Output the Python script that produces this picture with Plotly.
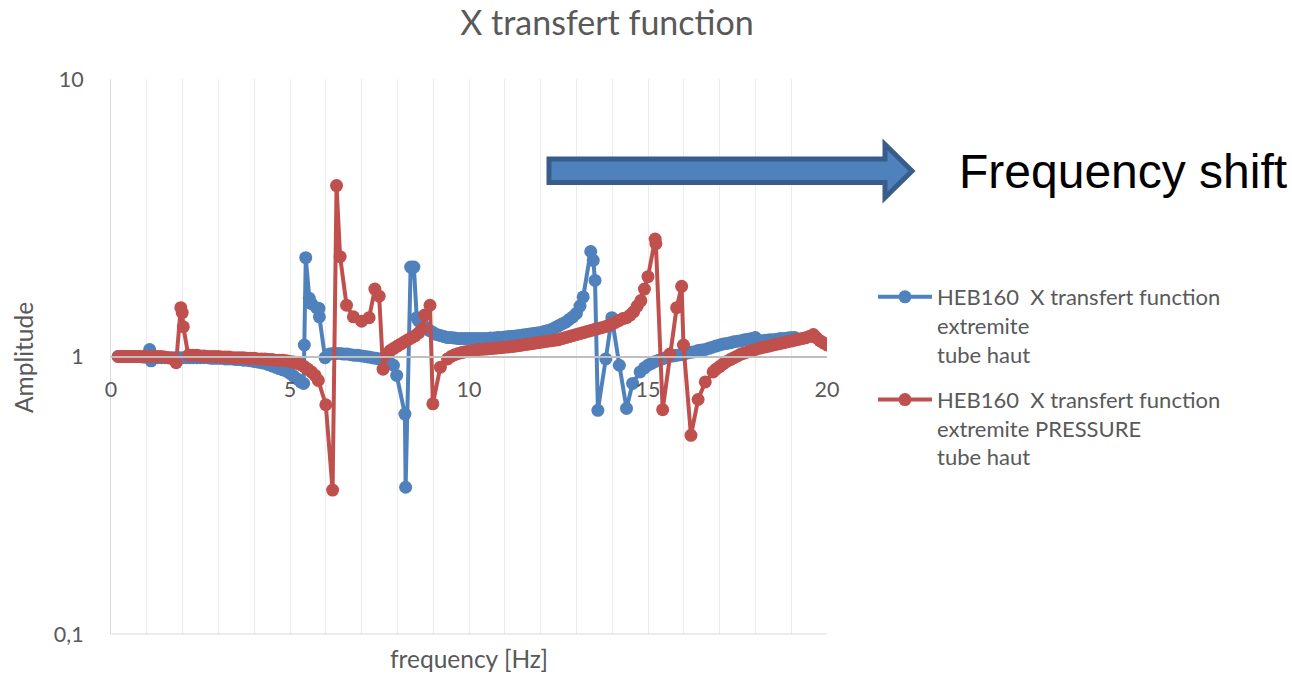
import plotly.graph_objects as go

# ---------------- data ----------------
blue_freq = [0.2, 0.3, 0.4, 0.5, 0.6, 0.7, 0.8, 0.9, 1.0, 1.08, 1.12, 1.2, 1.3, 1.4, 1.5, 1.6, 1.7, 1.8, 1.9,
             2.0, 2.1, 2.2, 2.3, 2.4, 2.5, 2.6, 2.7, 2.8, 2.9, 3.0, 3.1, 3.2, 3.3, 3.4, 3.5, 3.6, 3.7, 3.8, 3.9,
             4.0, 4.1, 4.2, 4.3, 4.4, 4.5, 4.6, 4.7, 4.8, 4.9, 5.0, 5.1, 5.2, 5.3, 5.38, 5.40, 5.44, 5.54, 5.60,
             5.74, 5.81, 5.82, 5.98, 6.1, 6.2, 6.3, 6.4, 6.5, 6.6, 6.7, 6.8, 6.9, 7.0, 7.1, 7.2, 7.3, 7.4, 7.5,
             7.6, 7.7, 7.8, 7.89, 7.98, 8.21, 8.23, 8.37, 8.46, 8.54, 8.6, 8.7, 8.8, 8.9, 9.0, 9.1, 9.2, 9.3,
             9.4, 9.5, 9.6, 9.7, 9.8, 9.9, 10.0, 10.1, 10.2, 10.3, 10.4, 10.5, 10.6, 10.7, 10.8, 10.9, 11.0,
             11.1, 11.2, 11.3, 11.4, 11.5, 11.6, 11.7, 11.8, 11.9, 12.0, 12.1, 12.2, 12.3, 12.4, 12.5, 12.6,
             12.7, 12.8, 12.9, 13.0, 13.1, 13.19, 13.40, 13.47, 13.52, 13.60, 13.82, 13.99, 14.2, 14.4, 14.57,
             14.78, 14.9, 15.0, 15.1, 15.2, 15.3, 15.4, 15.5, 15.6, 15.7, 15.8, 15.9, 16.0, 16.1, 16.2, 16.3,
             16.4, 16.5, 16.6, 16.7, 16.8, 16.9, 17.0, 17.1, 17.2, 17.3, 17.4, 17.5, 17.6, 17.7, 17.8, 17.9,
             18.0, 18.1, 18.2, 18.3, 18.4, 18.5, 18.6, 18.7, 18.8, 18.9, 19.0, 19.1]
blue_amp = [1.0, 1.0, 1.0, 1.0, 1.0, 1.0, 1.0, 0.995, 0.995, 1.06, 0.965, 0.99, 0.99, 0.99, 0.99, 0.99, 0.99, 0.99, 0.99,
            0.99, 0.99, 0.99, 0.99, 0.99, 0.99, 0.99, 0.99, 0.985, 0.985, 0.985, 0.985, 0.98, 0.98, 0.98, 0.975, 0.975, 0.97, 0.97, 0.965,
            0.96, 0.955, 0.95, 0.945, 0.935, 0.925, 0.915, 0.905, 0.895, 0.885, 0.87, 0.85, 0.83, 0.81, 0.80, 1.10, 2.27, 1.62, 1.55,
            1.50, 1.49, 1.39, 0.99, 1.02, 1.025, 1.025, 1.025, 1.02, 1.02, 1.015, 1.01, 1.01, 1.005, 1.0, 0.995, 0.99, 0.985, 0.98,
            0.97, 0.96, 0.945, 0.93, 0.855, 0.62, 0.338, 2.10, 2.10, 1.38, 1.34, 1.30, 1.27, 1.24, 1.22, 1.20, 1.19, 1.18,
            1.17, 1.17, 1.165, 1.16, 1.16, 1.16, 1.16, 1.16, 1.16, 1.16, 1.16, 1.16, 1.165, 1.165, 1.17, 1.17, 1.175,
            1.18, 1.18, 1.185, 1.19, 1.195, 1.2, 1.205, 1.21, 1.215, 1.22, 1.23, 1.24, 1.25, 1.27, 1.29, 1.31,
            1.33, 1.36, 1.39, 1.43, 1.52, 1.64, 2.39, 2.22, 1.88, 0.64, 0.98, 1.38, 0.93, 0.65, 0.80,
            0.88, 0.91, 0.93, 0.945, 0.96, 0.97, 0.98, 0.99, 1.0, 1.005, 1.01, 1.015, 1.02, 1.03, 1.035, 1.04,
            1.05, 1.055, 1.06, 1.07, 1.08, 1.09, 1.10, 1.11, 1.115, 1.12, 1.13, 1.135, 1.14, 1.15, 1.155, 1.16,
            1.17, 1.14, 1.14, 1.145, 1.15, 1.15, 1.155, 1.16, 1.16, 1.165, 1.17, 1.17]

red_freq = [0.2, 0.3, 0.4, 0.5, 0.6, 0.7, 0.8, 0.9, 1.0, 1.1, 1.2, 1.3, 1.4, 1.5, 1.6, 1.7, 1.82, 1.95, 1.99, 2.02,
            2.16, 2.2, 2.3, 2.4, 2.5, 2.6, 2.7, 2.8, 2.9, 3.0, 3.1, 3.2, 3.3, 3.4, 3.5, 3.6, 3.7, 3.8, 3.9, 4.0,
            4.1, 4.2, 4.3, 4.4, 4.5, 4.6, 4.7, 4.8, 4.9, 5.0, 5.1, 5.2, 5.3, 5.4, 5.5, 5.6, 5.7, 5.79, 6.0, 6.19,
            6.30, 6.40, 6.58, 6.77, 7.0, 7.21, 7.37, 7.49, 7.60, 7.7, 7.8, 7.9, 8.0, 8.1, 8.2, 8.3, 8.4, 8.5, 8.6,
            8.7, 8.76, 8.91, 8.99, 9.2, 9.4, 9.5, 9.6, 9.7, 9.8, 9.9, 10.0, 10.1, 10.2, 10.3, 10.4, 10.5, 10.6,
            10.7, 10.8, 10.9, 11.0, 11.1, 11.2, 11.3, 11.4, 11.5, 11.6, 11.7, 11.8, 11.9, 12.0, 12.1, 12.2, 12.3,
            12.4, 12.5, 12.6, 12.7, 12.8, 12.9, 13.0, 13.1, 13.2, 13.3, 13.4, 13.5, 13.6, 13.7, 13.8, 13.9, 14.0,
            14.1, 14.2, 14.3, 14.4, 14.5, 14.6, 14.7, 14.8, 14.9, 15.0, 15.2, 15.22, 15.41, 15.61, 15.8, 15.94,
            15.99, 16.2, 16.4, 16.6, 16.82, 16.9, 17.0, 17.1, 17.2, 17.3, 17.4, 17.5, 17.6, 17.7, 17.8, 17.9,
            18.0, 18.1, 18.2, 18.3, 18.4, 18.5, 18.6, 18.7, 18.8, 18.9, 19.0, 19.1, 19.2, 19.3, 19.4, 19.5, 19.62,
            19.7, 19.8, 19.9, 20.0]
red_amp = [1.0, 1.0, 1.0, 1.0, 1.0, 1.0, 1.0, 1.0, 1.0, 1.0, 1.0, 1.0, 1.0, 0.995, 0.99, 0.985, 0.95, 1.50, 1.44, 1.28,
           1.01, 1.01, 1.01, 1.01, 1.005, 1.005, 1.0, 1.0, 1.0, 1.0, 0.995, 0.995, 0.995, 0.99, 0.99, 0.99, 0.99, 0.985, 0.985, 0.985,
           0.98, 0.98, 0.98, 0.975, 0.975, 0.97, 0.97, 0.97, 0.965, 0.96, 0.955, 0.945, 0.935, 0.92, 0.90, 0.88, 0.855, 0.82, 0.67, 0.33,
           4.13, 2.29, 1.53, 1.39, 1.34, 1.38, 1.75, 1.65, 0.90, 1.02, 1.05, 1.07, 1.09, 1.11, 1.13, 1.15, 1.17, 1.19, 1.22,
           1.26, 1.41, 1.53, 0.675, 0.915, 0.98, 1.0, 1.015, 1.025, 1.033, 1.04, 1.045, 1.05, 1.055, 1.06, 1.062, 1.065, 1.068,
           1.07, 1.073, 1.076, 1.08, 1.083, 1.086, 1.09, 1.095, 1.10, 1.105, 1.11, 1.115, 1.12, 1.125, 1.13, 1.135, 1.14,
           1.145, 1.15, 1.16, 1.17, 1.18, 1.19, 1.20, 1.21, 1.22, 1.23, 1.24, 1.25, 1.26, 1.27, 1.28, 1.295, 1.31,
           1.33, 1.35, 1.37, 1.38, 1.41, 1.45, 1.52, 1.59, 1.75, 1.94, 2.65, 2.55, 0.643, 1.02, 1.50, 1.79,
           1.10, 0.52, 0.70, 0.81, 0.88, 0.90, 0.92, 0.94, 0.96, 0.975, 0.99, 1.005, 1.02, 1.03, 1.04, 1.05,
           1.06, 1.07, 1.078, 1.085, 1.092, 1.10, 1.107, 1.115, 1.122, 1.13, 1.137, 1.145, 1.152, 1.16, 1.168, 1.18, 1.20,
           1.17, 1.14, 1.12, 1.10]

blue_name = "HEB160  X transfert function<br>extremite<br>tube haut"
red_name = "HEB160  X transfert function<br>extremite PRESSURE<br>tube haut"
y_tickvals = [0.1, 1, 10]
y_ticktext = ["0,1", "1", "10"]

# ---------------- layout helpers ----------------
W, H = 1292, 674
L, R, T, B = 111, 827, 79, 634
def px(x):
    return (x - L) / (R - L)
def py(y):
    return (B - y) / (B - T)

FONT = "Lato"
GRAY = "#595959"
BLUE = "#4F81BD"
RED = "#C0504D"

fig = go.Figure()
fig.add_trace(go.Scatter(x=blue_freq, y=blue_amp, mode="lines+markers", name=blue_name,
                         legendgroup="a",
                         line=dict(color=BLUE, width=4), marker=dict(color=BLUE, size=13)))
fig.add_trace(go.Scatter(x=red_freq, y=red_amp, mode="lines+markers", name=red_name,
                         legendgroup="b",
                         line=dict(color=RED, width=4), marker=dict(color=RED, size=13)))

fig.update_layout(
    width=W, height=H,
    margin=dict(l=L, r=W - R, t=T, b=H - B),
    paper_bgcolor="white", plot_bgcolor="white",
    font=dict(family=FONT, color=GRAY, size=21),
    title=dict(text="X transfert function", x=607 / W, xref="container", xanchor="center",
               y=1 - 23 / H, yref="container", yanchor="middle",
               font=dict(size=34, color=GRAY, family=FONT)),
    showlegend=True,
    legend=dict(x=px(873), y=py(276), xanchor="left", yanchor="top", valign="top",
                font=dict(size=22, color=GRAY, family=FONT), itemwidth=54,
                tracegroupgap=14, bgcolor="rgba(0,0,0,0)"),
    xaxis=dict(range=[0, 20], tick0=0, dtick=5, showgrid=True, gridcolor="#ececec", gridwidth=1,
               minor=dict(dtick=1, showgrid=True, gridcolor="#ececec", gridwidth=1),
               anchor="free", position=0.5, showline=True, linecolor="#bfbfbf", linewidth=1.5,
               zeroline=False, ticks="", ticklabelstandoff=14,
               tickfont=dict(size=21.5, color=GRAY, family=FONT)),
    yaxis=dict(type="log", range=[-1, 1], tickvals=y_tickvals, ticktext=y_ticktext,
               showgrid=False, showline=True, linecolor="#d9d9d9", linewidth=1,
               zeroline=False, ticks="", ticklabelstandoff=22,
               tickfont=dict(size=21.5, color=GRAY, family=FONT)),
)

# bottom border line of the plot area
fig.add_shape(type="line", xref="paper", yref="paper", x0=0, x1=1, y0=0, y1=0,
              line=dict(color="#d9d9d9", width=1))

# block arrow
pts = [(549, 159), (885, 159), (885, 144.5), (912, 171), (885, 197.5), (885, 182.5), (549, 182.5)]
path = "M " + " L ".join(f"{px(x):.5f},{py(y):.5f}" for x, y in pts) + " Z"
fig.add_shape(type="path", xref="paper", yref="paper", path=path,
              fillcolor=BLUE, line=dict(color="#385D8A", width=5))

# annotations: axis titles and text
fig.add_annotation(text="frequency [Hz]", xref="paper", yref="paper", x=px(469), y=py(658),
                   showarrow=False, xanchor="center", yanchor="middle",
                   font=dict(size=24.5, color=GRAY, family=FONT))
fig.add_annotation(text="Amplitude", xref="paper", yref="paper", x=px(23), y=py(358),
                   showarrow=False, xanchor="center", yanchor="middle", textangle=-90,
                   font=dict(size=24.5, color=GRAY, family=FONT))
fig.add_annotation(text="Frequency shift", xref="paper", yref="paper", x=px(957), y=py(172),
                   showarrow=False, xanchor="left", yanchor="middle",
                   font=dict(size=48, color="black", family="Liberation Sans"))

fig.write_html("out.html")
